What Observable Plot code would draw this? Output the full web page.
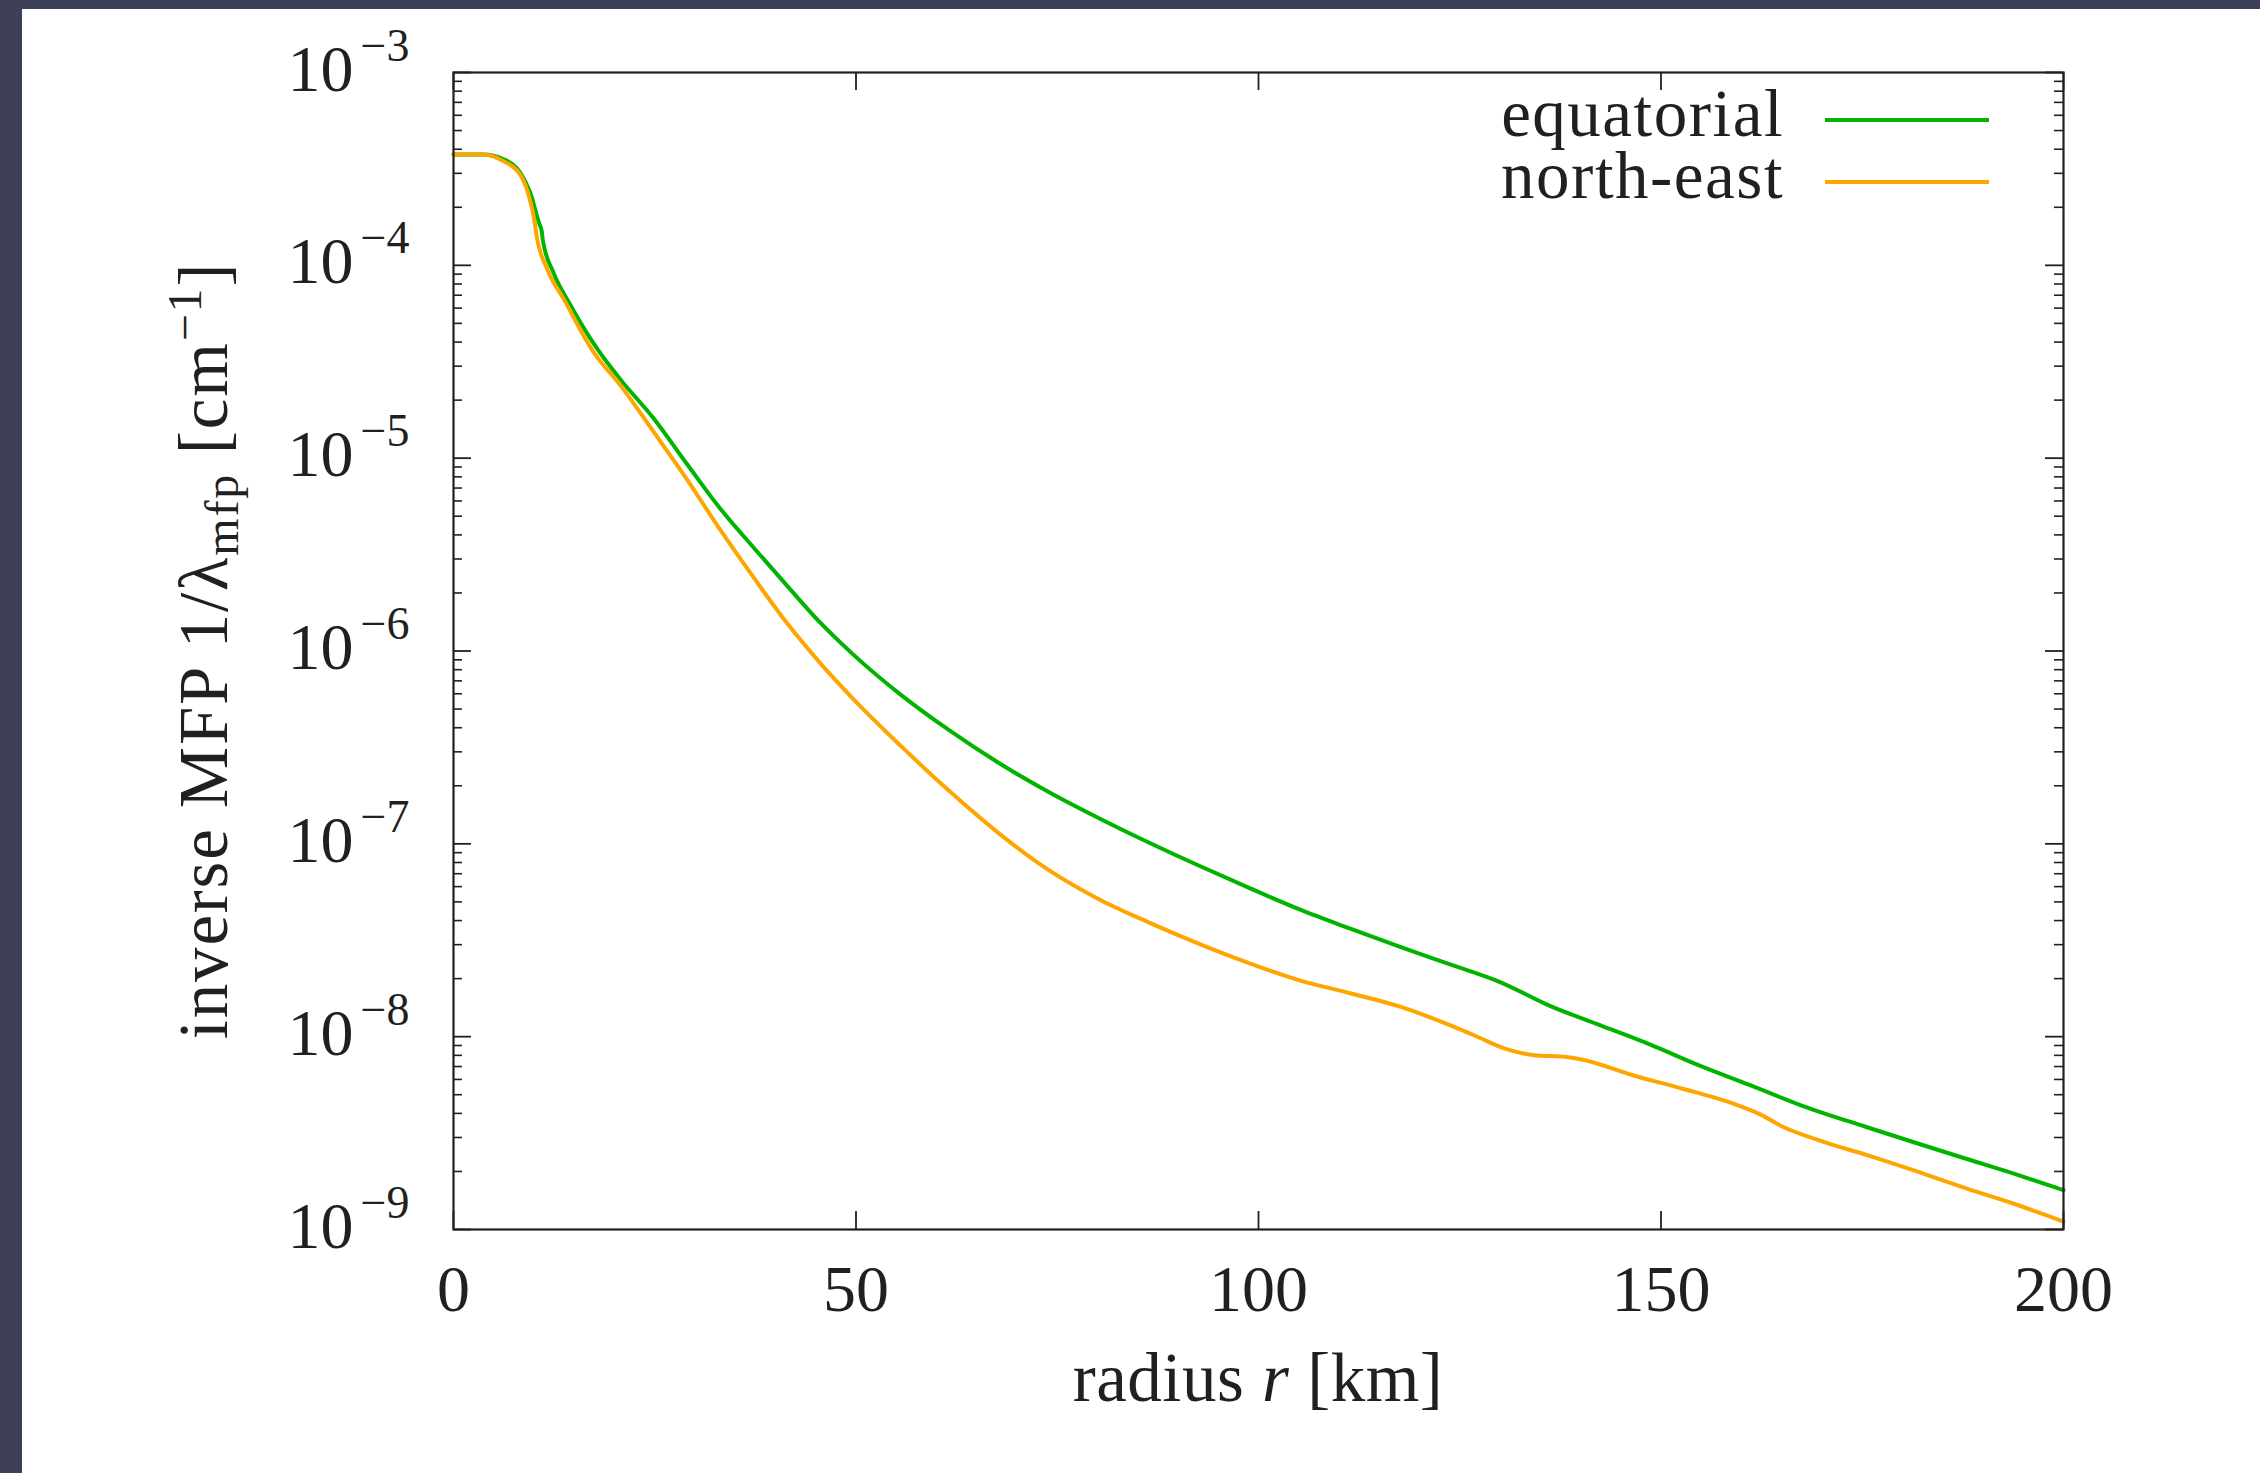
<!DOCTYPE html>
<html><head><meta charset="utf-8">
<script src="https://cdn.jsdelivr.net/npm/d3@7"></script>
<script src="https://cdn.jsdelivr.net/npm/@observablehq/plot@0.6"></script>
<style>
html,body{margin:0;padding:0;background:#fff;}
#wrap{position:relative;width:2260px;height:1473px;overflow:hidden;background:#fff;}
.band-top{position:absolute;left:0;top:0;width:2260px;height:9px;background:#3e4057;}
.band-left{position:absolute;left:0;top:0;width:22px;height:1473px;background:#3e4057;}
#chart{position:absolute;left:0;top:0;}
</style></head><body>
<div id="wrap"><div id="chart"></div><div class="band-top"></div><div class="band-left"></div></div>
<script>
// ---- data ----
const seriesNames = ["equatorial", "north-east"];
const rEq = [0, 3.7, 6.2, 8.3, 9.5, 10.8, 10.9, 11.1, 12.4, 14.5, 17.8, 20.7, 24.8, 29, 33.1, 37.3, 41.4, 45.5, 49.7, 55.5, 61.7, 67.9, 74.1, 80.3, 86.5, 92.7, 98.9, 105.1, 111.4, 117.6, 123.8, 130, 136.2, 142.4, 148.6, 154.8, 161, 167.3, 175.6, 181.8, 188, 194.3, 200];
const vEq = [3.76e-4, 3.76e-4, 3.55e-4, 3.02e-4, 2.40e-4, 1.585e-4, 1.55e-4, 1.35e-4, 9.20e-5, 6.25e-5, 3.72e-5, 2.57e-5, 1.62e-5, 9.33e-6, 5.50e-6, 3.43e-6, 2.19e-6, 1.41e-6, 9.55e-7, 5.96e-7, 3.85e-7, 2.60e-7, 1.84e-7, 1.35e-7, 1.01e-7, 7.67e-8, 5.89e-8, 4.57e-8, 3.63e-8, 2.92e-8, 2.37e-8, 1.92e-8, 1.445e-8, 1.148e-8, 9.12e-9, 7.08e-9, 5.62e-9, 4.42e-9, 3.39e-9, 2.80e-9, 2.32e-9, 1.92e-9, 1.60e-9];
const rNe = [0, 3.7, 6.2, 8.3, 9.3, 10.1, 10.3, 11.6, 13.7, 17.4, 20.7, 24.8, 29, 33.1, 37.3, 41.4, 45.5, 49.7, 55.5, 61.7, 67.9, 74.1, 80.3, 86.5, 92.7, 98.9, 105.1, 111.4, 117.6, 122.6, 126.7, 130.9, 134.2, 138.3, 140.3, 146.5, 152.7, 158.9, 162.2, 165.2, 170.2, 175.6, 181.8, 188, 194.3, 200];
const vNe = [3.76e-4, 3.76e-4, 3.47e-4, 2.95e-4, 2.34e-4, 1.66e-4, 1.445e-4, 9.64e-5, 6.68e-5, 3.55e-5, 2.40e-5, 1.38e-5, 7.76e-6, 4.27e-6, 2.40e-6, 1.40e-6, 8.71e-7, 5.62e-7, 3.24e-7, 1.86e-7, 1.12e-7, 7.24e-8, 5.13e-8, 3.89e-8, 3.02e-8, 2.40e-8, 1.96e-8, 1.68e-8, 1.43e-8, 1.20e-8, 1.02e-8, 8.59e-9, 8.02e-9, 7.85e-9, 7.59e-9, 6.31e-9, 5.37e-9, 4.51e-9, 3.98e-9, 3.40e-9, 2.85e-9, 2.43e-9, 2.00e-9, 1.63e-9, 1.34e-9, 1.10e-9];
const xTicks = [0, 50, 100, 150, 200];
const yTicks = [1e-3, 1e-4, 1e-5, 1e-6, 1e-7, 1e-8, 1e-9];
const yTickExp = ["\u22123", "\u22124", "\u22125", "\u22126", "\u22127", "\u22128", "\u22129"];
const yMinor = [];
for (let k = -9; k <= -4; k++) for (let m = 2; m <= 9; m++) yMinor.push(+(m + "e" + k));

// ---- layout / style ----
const W = 2260, H = 1473, mL = 453, mR = 197, mT = 72, mB = 244;
const innerW = W - mL - mR, innerH = H - mT - mB;
const FONT = "'Liberation Serif', 'DejaVu Serif', serif";
const INK = "#231f20";
const colors = ["#00b400", "#ffa500"];
const FS = 66, FS_SUP = 46, FS_LAB = 69;

const eq = rEq.map((r, i) => ({r, v: vEq[i]}));
const ne = rNe.map((r, i) => ({r, v: vNe[i]}));

const svg = Plot.plot({
  width: W, height: H,
  marginLeft: mL, marginRight: mR, marginTop: mT, marginBottom: mB,
  style: {background: "transparent", fontFamily: FONT, color: INK},
  x: {domain: [0, 200], axis: null},
  y: {type: "log", domain: [1e-9, 1e-3], axis: null},
  marks: [
    Plot.line(eq, {x: "r", y: "v", stroke: colors[0], strokeWidth: 4, curve: "monotone-x"}),
    Plot.line(ne, {x: "r", y: "v", stroke: colors[1], strokeWidth: 4, curve: "monotone-x"}),
    Plot.ruleY(yTicks, {insetRight: innerW - 18, stroke: INK, strokeWidth: 1.8}),
    Plot.ruleY(yTicks, {insetLeft: innerW - 18, stroke: INK, strokeWidth: 1.8}),
    Plot.ruleY(yMinor, {insetRight: innerW - 9, stroke: INK, strokeWidth: 1.6}),
    Plot.ruleY(yMinor, {insetLeft: innerW - 9, stroke: INK, strokeWidth: 1.6}),
    Plot.ruleX(xTicks, {insetTop: innerH - 18, stroke: INK, strokeWidth: 1.8}),
    Plot.ruleX(xTicks, {insetBottom: innerH - 18, stroke: INK, strokeWidth: 1.8}),
    Plot.frame({stroke: INK, strokeWidth: 2.2}),
    Plot.text(xTicks, {x: d => d, frameAnchor: "bottom", dy: 81, lineAnchor: "bottom", text: d => String(d), fontSize: FS, fill: INK}),
    Plot.text(yTicks, {y: d => d, frameAnchor: "left", dx: -100, dy: 18, textAnchor: "end", lineAnchor: "bottom", text: () => "10", fontSize: FS, fill: INK}),
    Plot.text(yTicks, {y: d => d, frameAnchor: "left", dx: -93, dy: -12, textAnchor: "start", lineAnchor: "bottom", text: (d, i) => yTickExp[i], fontSize: FS_SUP, fill: INK})
  ]
});
document.getElementById("chart").appendChild(svg);

const s = d3.select(svg);
// x axis label
const xl = s.append("text").attr("x", mL + innerW / 2).attr("y", 1401)
  .attr("text-anchor", "middle").attr("font-family", FONT).attr("font-size", FS_LAB)
  .attr("letter-spacing", "0.5px").attr("fill", INK);
xl.append("tspan").text("radius ");
xl.append("tspan").attr("font-style", "italic").text("r");
xl.append("tspan").text(" [km]");

// y axis label
const yl = s.append("text").attr("transform", `translate(227,${mT + innerH / 2}) rotate(-90)`)
  .attr("text-anchor", "middle").attr("font-family", FONT).attr("font-size", FS_LAB)
  .attr("letter-spacing", "1.8px").attr("fill", INK);
yl.append("tspan").text("inverse MFP 1/\u03bb");
yl.append("tspan").attr("font-size", FS_SUP + 2).attr("dy", 11).text("mfp");
yl.append("tspan").attr("dy", -11).text(" [cm");
yl.append("tspan").attr("font-size", FS_SUP + 2).attr("dy", -26).text("\u22121");
yl.append("tspan").attr("dy", 26).text("]");

// legend
const legendY = [120, 182];
seriesNames.forEach((name, i) => {
  s.append("text").attr("x", 1784).attr("y", legendY[i] + 16).attr("text-anchor", "end")
    .attr("font-family", FONT).attr("font-size", FS_LAB - 2).attr("letter-spacing", "1.5px")
    .attr("fill", INK).text(name);
  s.append("line").attr("x1", 1825).attr("x2", 1989).attr("y1", legendY[i]).attr("y2", legendY[i])
    .attr("stroke", colors[i]).attr("stroke-width", 4);
});
</script>
</body></html>
